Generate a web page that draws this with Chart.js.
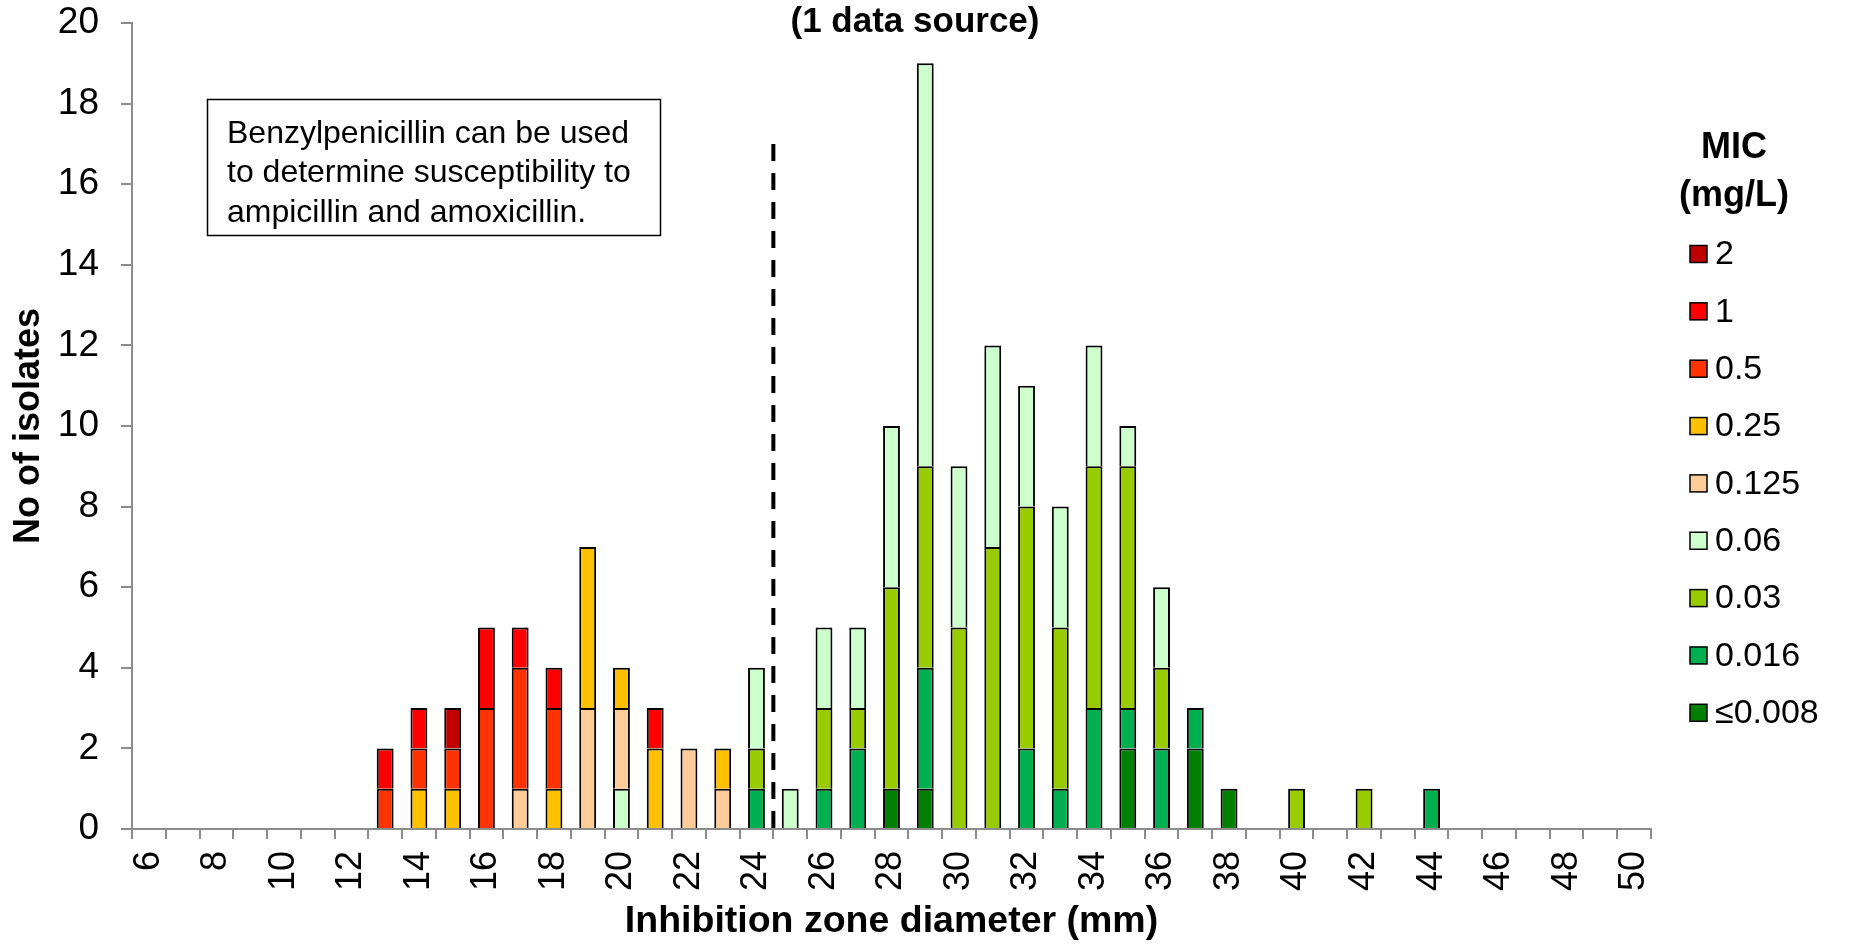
<!DOCTYPE html>
<html>
<head>
<meta charset="utf-8">
<script src="https://cdn.jsdelivr.net/npm/chart.js@4/dist/chart.umd.min.js"></script>
<style>
  html, body { margin: 0; padding: 0; background: #fff; }
  canvas { display: block; }
</style>
</head>
<body>
<canvas id="chart" width="1852" height="944"></canvas>
<script>
// inhibition zone diameter (mm), one bar per value
const categories = [6, 7, 8, 9, 10, 11, 12, 13, 14, 15, 16, 17, 18, 19, 20, 21, 22, 23, 24, 25, 26, 27, 28,
  29, 30, 31, 32, 33, 34, 35, 36, 37, 38, 39, 40, 41, 42, 43, 44, 45, 46, 47, 48, 49, 50];

// number of isolates per MIC class (mg/L), aligned with categories
//                  6  7  8  9 10 11 12 13 14 15 16 17 18 19 20 21 22 23 24 25 26 27 28 29 30 31 32 33 34 35 36 37 38 39 40 41 42 43 44 45 46 47 48 49 50
const mic_le0008 = [0, 0, 0, 0, 0, 0, 0, 0, 0, 0, 0, 0, 0, 0, 0, 0, 0, 0, 0, 0, 0, 0, 1, 1, 0, 0, 0, 0, 0, 2, 0, 2, 1, 0, 0, 0, 0, 0, 0, 0, 0, 0, 0, 0, 0];
const mic_0016   = [0, 0, 0, 0, 0, 0, 0, 0, 0, 0, 0, 0, 0, 0, 0, 0, 0, 0, 1, 0, 1, 2, 0, 3, 0, 0, 2, 1, 3, 1, 2, 1, 0, 0, 0, 0, 0, 0, 1, 0, 0, 0, 0, 0, 0];
const mic_003    = [0, 0, 0, 0, 0, 0, 0, 0, 0, 0, 0, 0, 0, 0, 0, 0, 0, 0, 1, 0, 2, 1, 5, 5, 5, 7, 6, 4, 6, 6, 2, 0, 0, 0, 1, 0, 1, 0, 0, 0, 0, 0, 0, 0, 0];
const mic_006    = [0, 0, 0, 0, 0, 0, 0, 0, 0, 0, 0, 0, 0, 0, 1, 0, 0, 0, 2, 1, 2, 2, 4, 10, 4, 5, 3, 3, 3, 1, 2, 0, 0, 0, 0, 0, 0, 0, 0, 0, 0, 0, 0, 0, 0];
const mic_0125   = [0, 0, 0, 0, 0, 0, 0, 0, 0, 0, 0, 1, 0, 3, 2, 0, 2, 1, 0, 0, 0, 0, 0, 0, 0, 0, 0, 0, 0, 0, 0, 0, 0, 0, 0, 0, 0, 0, 0, 0, 0, 0, 0, 0, 0];
const mic_025    = [0, 0, 0, 0, 0, 0, 0, 0, 1, 1, 0, 0, 1, 4, 1, 2, 0, 1, 0, 0, 0, 0, 0, 0, 0, 0, 0, 0, 0, 0, 0, 0, 0, 0, 0, 0, 0, 0, 0, 0, 0, 0, 0, 0, 0];
const mic_05     = [0, 0, 0, 0, 0, 0, 0, 1, 1, 1, 3, 3, 2, 0, 0, 0, 0, 0, 0, 0, 0, 0, 0, 0, 0, 0, 0, 0, 0, 0, 0, 0, 0, 0, 0, 0, 0, 0, 0, 0, 0, 0, 0, 0, 0];
const mic_1      = [0, 0, 0, 0, 0, 0, 0, 1, 1, 0, 2, 1, 1, 0, 0, 1, 0, 0, 0, 0, 0, 0, 0, 0, 0, 0, 0, 0, 0, 0, 0, 0, 0, 0, 0, 0, 0, 0, 0, 0, 0, 0, 0, 0, 0];
const mic_2      = [0, 0, 0, 0, 0, 0, 0, 0, 0, 1, 0, 0, 0, 0, 0, 0, 0, 0, 0, 0, 0, 0, 0, 0, 0, 0, 0, 0, 0, 0, 0, 0, 0, 0, 0, 0, 0, 0, 0, 0, 0, 0, 0, 0, 0];

// stack order: bottom first
const micLabels = ['≤0.008', '0.016', '0.03', '0.06', '0.125', '0.25', '0.5', '1', '2'];
const micSeries = [mic_le0008, mic_0016, mic_003, mic_006, mic_0125, mic_025, mic_05, mic_1, mic_2];
const micColors = ['#008000', '#00B050', '#99CC00', '#CCFFCC', '#FFCC99', '#FFC000', '#FF3300', '#FF0000', '#C00000'];

const yTicks = [0, 2, 4, 6, 8, 10, 12, 14, 16, 18, 20];
const breakpointLine = { between: [24, 25], top: 17 };
const noteLines = ['Benzylpenicillin can be used', 'to determine susceptibility to', 'ampicillin and amoxicillin.'];

const FONT = '"Liberation Sans", Arial, Helvetica, sans-serif';
const AXIS_GREY = '#8c8c8c';

// title, note box, breakpoint line and MIC legend
const extras = {
  id: 'extras',
  afterDatasetsDraw(chart) {
    const ctx = chart.ctx;
    const x = chart.scales.x, y = chart.scales.y;

    // dashed breakpoint line between 24 and 25 mm
    const i0 = categories.indexOf(breakpointLine.between[0]);
    const i1 = categories.indexOf(breakpointLine.between[1]);
    const lx = (x.getPixelForValue(i0) + x.getPixelForValue(i1)) / 2;
    ctx.save();
    ctx.strokeStyle = '#000';
    ctx.lineWidth = 4;
    ctx.setLineDash([17, 12]);
    ctx.beginPath();
    ctx.moveTo(lx, y.getPixelForValue(breakpointLine.top));
    ctx.lineTo(lx, y.getPixelForValue(0));
    ctx.stroke();
    ctx.restore();
  },
  afterDraw(chart) {
    const ctx = chart.ctx;
    ctx.save();

    // chart subtitle
    ctx.fillStyle = '#000';
    ctx.font = 'bold 35px ' + FONT;
    ctx.textAlign = 'center';
    ctx.textBaseline = 'alphabetic';
    ctx.fillText('(1 data source)', 915, 32);

    // note box
    ctx.fillStyle = '#fff';
    ctx.fillRect(208, 100, 454, 136);
    ctx.strokeStyle = '#000';
    ctx.lineWidth = 1.5;
    ctx.strokeRect(207.5, 99.5, 453, 136);
    ctx.fillStyle = '#000';
    ctx.font = '32px ' + FONT;
    ctx.textAlign = 'left';
    noteLines.forEach((t, i) => ctx.fillText(t, 227, 143 + i * 39.3));

    // legend
    ctx.font = 'bold 36px ' + FONT;
    ctx.textAlign = 'center';
    ctx.textBaseline = 'middle';
    ctx.fillText('MIC', 1734, 148);
    ctx.fillText('(mg/L)', 1734, 196);

    ctx.font = '34px ' + FONT;
    ctx.textAlign = 'left';
    const ds = chart.data.datasets.slice().reverse();
    ds.forEach((d, i) => {
      const cy = 254 + i * 57.35;
      ctx.fillStyle = d.backgroundColor;
      ctx.fillRect(1690, cy - 8.5, 17, 17);
      ctx.strokeStyle = '#000';
      ctx.lineWidth = 1.5;
      ctx.strokeRect(1690, cy - 8.5, 17, 17);
      ctx.fillStyle = '#000';
      ctx.fillText(d.label, 1715, cy + 1);
    });
    ctx.restore();
  }
};

const ctx = document.getElementById('chart').getContext('2d');
new Chart(ctx, {
  type: 'bar',
  data: {
    labels: categories.map(String),
    datasets: micSeries.map((vals, i) => ({
      label: micLabels[i],
      data: vals.map(v => v === 0 ? null : v),
      backgroundColor: micColors[i],
      borderColor: '#000',
      borderWidth: 2,
      categoryPercentage: 1,
      barPercentage: 0.5
    }))
  },
  plugins: [extras],
  options: {
    responsive: false,
    animation: false,
    devicePixelRatio: 1,
    layout: { padding: { top: 23, right: 201, bottom: 0, left: 0 } },
    plugins: {
      legend: { display: false },
      title: { display: false },
      tooltip: { enabled: false }
    },
    scales: {
      x: {
        stacked: true,
        afterFit: s => { s.height = 115; },
        grid: {
          offset: true,
          drawOnChartArea: false,
          drawTicks: true,
          tickLength: 10,
          color: AXIS_GREY,
          lineWidth: 2
        },
        border: { display: true, color: AXIS_GREY, width: 2 },
        ticks: {
          autoSkip: false,
          minRotation: 90,
          maxRotation: 90,
          padding: 12,
          color: '#000',
          font: { family: FONT, size: 36 },
          callback: (v, i) => categories[i] % 2 === 0 ? String(categories[i]) : ''
        },
        title: {
          display: true,
          text: 'Inhibition zone diameter (mm)',
          color: '#000',
          font: { family: FONT, size: 37.5, weight: 'bold' },
          padding: { top: 0, bottom: 0 }
        }
      },
      y: {
        stacked: true,
        min: yTicks[0],
        max: yTicks[yTicks.length - 1],
        afterFit: s => { s.width = 132; s.paddingTop = 0; s.paddingBottom = 0; },
        afterBuildTicks: s => { s.ticks = yTicks.map(v => ({ value: v })); },
        grid: {
          drawOnChartArea: false,
          drawTicks: true,
          tickLength: 11,
          color: AXIS_GREY,
          lineWidth: 2
        },
        border: { display: true, color: AXIS_GREY, width: 2 },
        ticks: {
          padding: 22,
          color: '#000',
          font: { family: FONT, size: 37 }
        },
        title: {
          display: true,
          text: 'No of isolates',
          color: '#000',
          font: { family: FONT, size: 36, weight: 'bold' },
          padding: { top: 7, bottom: 0 }
        }
      }
    }
  }
});
</script>
</body>
</html>
